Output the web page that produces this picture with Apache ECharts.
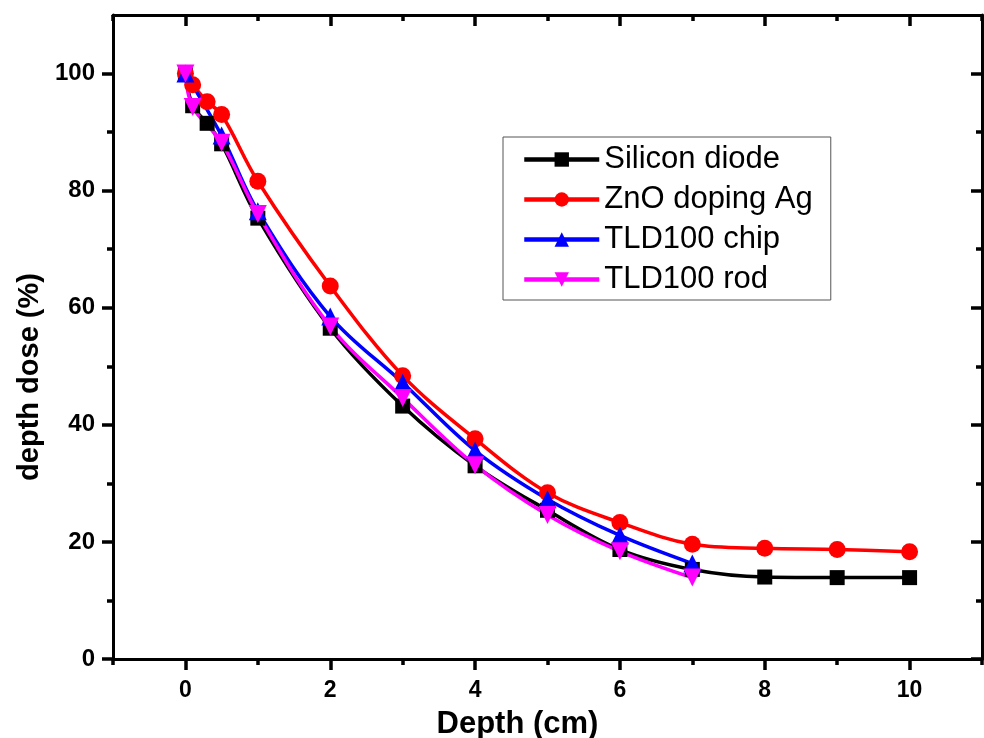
<!DOCTYPE html>
<html>
<head>
<meta charset="utf-8">
<script src="https://cdn.jsdelivr.net/npm/echarts@6/dist/echarts.min.js"></script>
<style>
  html, body { margin: 0; padding: 0; background: #fff; }
  #chart { width: 984px; height: 738px; }
</style>
</head>
<body>
<div id="chart"></div>
<script>
// Depth (cm) vs. depth dose (%) for four dosimeters
const siliconDepth = [0, 0.1, 0.3, 0.5, 1, 2, 3, 4, 5, 6, 7, 8, 9, 10];
const siliconDose  = [100, 94.5, 91.5, 88, 75.3, 56.5, 43.2, 33, 25.4, 18.7, 15.3, 14, 13.9, 13.9];

const znoDepth = [0, 0.1, 0.3, 0.5, 1, 2, 3, 4, 5, 6, 7, 8, 9, 10];
const znoDose  = [100, 98.1, 95.2, 93, 81.6, 63.7, 48.4, 37.6, 28.4, 23.3, 19.6, 18.9, 18.7, 18.3];

const chipDepth = [0, 0.5, 1, 2, 3, 4, 5, 6, 7];
const chipDose  = [100, 89.4, 76.5, 58.5, 47.2, 35.6, 27.3, 21.1, 16.3];

const rodDepth = [0, 0.1, 0.5, 1, 2, 3, 4, 5, 6, 7];
const rodDose  = [100, 94.3, 88.2, 76, 56.8, 44.6, 33.1, 24.6, 18.4, 13.9];

const seriesNames = ['Silicon diode', 'ZnO doping Ag', 'TLD100 chip', 'TLD100 rod'];

// tick positions
const xMajorTicks = [0, 2, 4, 6, 8, 10];
const xMinorTicks = [-1, 1, 3, 5, 7, 9, 11];
const yMajorTicks = [0, 20, 40, 60, 80, 100];
const yMinorTicks = [10, 30, 50, 70, 90];

const FONT = '"Liberation Sans", Arial, Helvetica, sans-serif';
const downTriangle = 'path://M0,0 L10,0 L5,9 Z';

function pairs(xs, ys) { return xs.map((x, i) => [x, ys[i]]); }

function axisLineDef(show) {
  return { show, onZero: false, lineStyle: { color: '#000', width: 3 } };
}

function xAxisDef(position, ticks, len, inside, withLabel, withLine) {
  return {
    type: 'value', position, min: -1, max: 11, interval: 1,
    axisLine: axisLineDef(withLine),
    splitLine: { show: false },
    axisTick: { show: true, customValues: ticks, length: len, inside,
                lineStyle: { color: '#000', width: 3.5 } },
    axisLabel: withLabel ? { show: true, customValues: xMajorTicks, margin: 20,
                color: '#000', fontFamily: FONT, fontWeight: 'bold', fontSize: 23 }
              : { show: false }
  };
}
function yAxisDef(position, ticks, len, inside, withLabel, withLine) {
  return {
    type: 'value', position, min: 0, max: 110, interval: 10,
    axisLine: axisLineDef(withLine),
    splitLine: { show: false },
    axisTick: { show: true, customValues: ticks, length: len, inside,
                lineStyle: { color: '#000', width: 3.5 } },
    axisLabel: withLabel ? { show: true, customValues: yMajorTicks, margin: 18,
                color: '#000', fontFamily: FONT, fontWeight: 'bold', fontSize: 24 }
              : { show: false }
  };
}

const xAxes = [
  Object.assign(xAxisDef('bottom', xMajorTicks, 11, false, true, true), {
    name: 'Depth (cm)', nameLocation: 'middle', nameGap: 50,
    nameTextStyle: { color: '#000', fontFamily: FONT, fontWeight: 'bold', fontSize: 31,
                     padding: [0, 60, 0, 0] }
  }),
  xAxisDef('bottom', xMinorTicks, 6, false, false, false),
  xAxisDef('top', xMajorTicks, 11, true, false, true),
  xAxisDef('top', xMinorTicks, 6, true, false, false)
];
const yAxes = [
  Object.assign(yAxisDef('left', yMajorTicks, 11, false, true, true), {
    name: 'depth dose (%)', nameLocation: 'middle', nameGap: 68,
    nameTextStyle: { color: '#000', fontFamily: FONT, fontWeight: 'bold', fontSize: 29,
                     padding: [0, 80, 0, 0] }
  }),
  yAxisDef('left', yMinorTicks, 6, false, false, false),
  yAxisDef('right', yMajorTicks, 11, true, false, true),
  yAxisDef('right', yMinorTicks, 6, true, false, false)
];

function lineSeries(name, data, color, symbol, size) {
  return {
    name, type: 'line', data, xAxisIndex: 0, yAxisIndex: 0,
    smooth: 0.35, symbol, symbolSize: size,
    lineStyle: { color, width: 3.5 },
    itemStyle: { color },
    emphasis: { disabled: true }
  };
}

const chart = echarts.init(document.getElementById('chart'));
chart.setOption({
  animation: false,
  backgroundColor: '#fff',
  grid: { left: 113, right: 2, top: 15, bottom: 79, containLabel: false, outerBoundsMode: 'none' },
  xAxis: xAxes,
  yAxis: yAxes,
  legend: {
    left: 503, top: 137, orient: 'vertical',
    backgroundColor: '#fff', borderColor: '#555', borderWidth: 1,
    padding: [7, 18, 5, 19], itemGap: 9,
    itemWidth: 75, itemHeight: 18,
    lineStyle: { width: 4.5 },
    textStyle: { color: '#000', fontFamily: FONT, fontSize: 31, padding: [0, 0, 0, 0] },
    data: seriesNames
  },
  series: [
    lineSeries(seriesNames[0], pairs(siliconDepth, siliconDose), '#000000', 'rect', 15),
    lineSeries(seriesNames[1], pairs(znoDepth, znoDose), '#ff0000', 'circle', 17),
    lineSeries(seriesNames[2], pairs(chipDepth, chipDose), '#0000ff', 'triangle', 18),
    lineSeries(seriesNames[3], pairs(rodDepth, rodDose), '#ff00ff', downTriangle, 18)
  ]
});
</script>
</body>
</html>
